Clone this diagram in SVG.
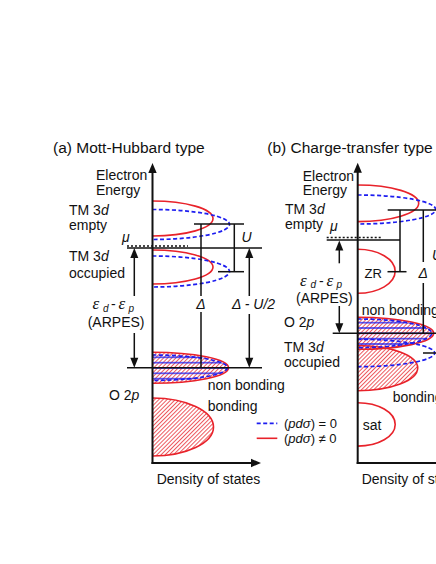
<svg xmlns="http://www.w3.org/2000/svg" width="436" height="564" viewBox="0 0 436 564">
<style>
text{font-family:"Liberation Sans",Arial,sans-serif;font-size:14px;fill:#111}
.ttl{font-size:15.5px}
.it{font-style:italic}
.gr{font-family:"Liberation Serif","Times New Roman",serif;font-style:italic;font-size:17px}
.sub{font-style:italic;font-size:10px}
.red{fill:none;stroke:#e8222a;stroke-width:1.6}
.blue{fill:none;stroke:#1d1df0;stroke-width:1.7;stroke-dasharray:4 2.5}
.ln{stroke:#111;stroke-width:1.5;fill:none}
.ax{stroke:#111;stroke-width:2;fill:none}
.dot{stroke:#111;stroke-width:1.6;stroke-dasharray:2 2;fill:none}
.hd{fill:#111}
.hr{fill:url(#hatchR);stroke:none}
</style>
<defs>
<pattern id="hatchR" patternUnits="userSpaceOnUse" width="2.9" height="2.9" patternTransform="rotate(45)">
<line x1="0.5" y1="0" x2="0.5" y2="2.9" stroke="#e8222a" stroke-width="0.75"/>
</pattern>
<pattern id="hatchBa" patternUnits="userSpaceOnUse" x="0" y="354.67" width="10" height="5.33">
<line x1="0" y1="2.67" x2="10" y2="2.67" stroke="#1d1df0" stroke-width="1.3"/>
</pattern>
<pattern id="hatchBb" patternUnits="userSpaceOnUse" x="0" y="320" width="10" height="5.33">
<line x1="0" y1="2.67" x2="10" y2="2.67" stroke="#1d1df0" stroke-width="1.3"/>
</pattern>
</defs>

<!-- Panel (a) -->
<text class="ttl" x="53" y="153">(a) Mott-Hubbard type</text>

<g id="a-empty">
<path class="red" d="M152.5,201 A60.5,17.5 0 0 1 152.5,236"/>
<path class="blue" d="M152.5,209.5 A77,15 0 0 1 152.5,239.5"/>
<text x="69" y="215">TM 3<tspan class="it">d</tspan></text>
<text x="69" y="230">empty</text>
</g>
<g id="a-occupied">
<path class="red" d="M152.5,250 A60.5,17 0 0 1 152.5,284"/>
<path class="blue" d="M152.5,256 A77,15.5 0 0 1 152.5,287"/>
<text x="69" y="261">TM 3<tspan class="it">d</tspan></text>
<text x="69" y="278">occupied</text>
</g>
<g id="a-nonbonding">
<path class="hr" d="M152.5,352.2 A76,15.5 0 0 1 152.5,383.2 Z"/>
<path fill="url(#hatchBa)" d="M152.5,354 A75,13.7 0 0 1 152.5,381.4 Z"/>
<path class="red" d="M152.5,352.2 A76,15.5 0 0 1 152.5,383.2"/>
<path class="blue" d="M152.5,355 A75,12.7 0 0 1 152.5,380.4"/>
<text x="207.7" y="390">non bonding</text>
</g>
<g id="a-bonding">
<path class="hr" d="M152.5,398 A61,29 0 0 1 152.5,456 Z"/>
<path class="red" d="M152.5,398 A61,29 0 0 1 152.5,456"/>
<text x="207.7" y="411">bonding</text>
</g>
<g id="a-o2p"><text x="109" y="400">O 2<tspan class="it">p</tspan></text></g>
<g id="a-legend">
<line x1="256.7" y1="423.3" x2="277.3" y2="423.3" class="blue"/>
<line x1="256.7" y1="438.3" x2="277.3" y2="438.3" class="red"/>
<text x="284" y="427.5" style="font-size:13px">(<tspan class="it">pd</tspan><tspan class="it">σ</tspan>) = 0</text>
<text x="284" y="442.5" style="font-size:13px">(<tspan class="it">pd</tspan><tspan class="it">σ</tspan>) ≠ 0</text>
</g>

<g id="a-connectors">
<line class="dot" x1="127" y1="246" x2="188" y2="246"/>
<line class="ln" x1="127" y1="248" x2="262" y2="248"/>
<line class="ln" x1="194" y1="224" x2="244" y2="224"/>
<line class="ln" x1="218" y1="271.7" x2="244" y2="271.7"/>
<line class="ln" x1="234.3" y1="224" x2="234.3" y2="271.7"/>
<line class="ln" x1="201" y1="224" x2="201" y2="296"/>
<line class="ln" x1="201" y1="312" x2="201" y2="367.7"/>
<line class="ln" x1="127" y1="367.7" x2="262" y2="367.7"/>
<line class="ln" x1="134.3" y1="296" x2="134.3" y2="256"/>
<polygon class="hd" points="134.3,248 130.3,258 138.3,258"/>
<line class="ln" x1="134.3" y1="333" x2="134.3" y2="359"/>
<polygon class="hd" points="134.3,367.7 130.3,357.7 138.3,357.7"/>
<line class="ln" x1="249.3" y1="296" x2="249.3" y2="256"/>
<polygon class="hd" points="249.3,248 245.3,258 253.3,258"/>
<line class="ln" x1="249.3" y1="314" x2="249.3" y2="359"/>
<polygon class="hd" points="249.3,367.7 245.3,357.7 253.3,357.7"/>
</g>
<g id="a-axes">
<line class="ax" x1="152.5" y1="464" x2="152.5" y2="171"/>
<polygon class="hd" points="152.5,163 148.3,173 156.7,173"/>
<line class="ax" x1="151.5" y1="463" x2="252" y2="463"/>
<polygon class="hd" points="261,463 251,458.8 251,467.2"/>
<text x="96" y="180">Electron</text>
<text x="96" y="195">Energy</text>
<text x="156.7" y="484">Density of states</text>
</g>
<g id="a-labels">
<text class="it" x="122" y="242">μ</text>
<text class="it" x="241.5" y="242">U</text>
<text x="92.5" y="309"><tspan class="gr">ε</tspan><tspan class="sub" x="103" y="311.5">d</tspan><tspan x="111" y="309">-</tspan><tspan class="gr" x="118.5">ε</tspan><tspan class="sub" x="128.5" y="311.5">p</tspan></text>
<text x="87.7" y="327">(ARPES)</text>
<text class="it" x="201" y="308.5" text-anchor="middle">Δ</text>
<text class="it" x="232" y="308.5">Δ - U/2</text>
</g>

<!-- Panel (b) -->
<text class="ttl" x="267.3" y="153">(b) Charge-transfer type</text>

<g id="b-empty">
<path class="red" d="M357.7,185 A61,18.3 0 0 1 357.7,221.6"/>
<path class="blue" d="M357.7,195 A78,14.5 0 0 1 357.7,224"/>
<text x="285" y="214">TM 3<tspan class="it">d</tspan></text>
<text x="285" y="228.5">empty</text>
</g>
<g id="b-zr">
<path class="red" d="M357.7,249.3 A37.5,22 0 0 1 357.7,293.3"/>
<text x="364.5" y="277.5" style="font-size:13px">ZR</text>
</g>
<g id="b-bonding">
<path class="hr" d="M357.7,345.5 A60,22.6 0 0 1 357.7,390.7 Z"/>
<path class="red" d="M357.7,345.5 A60,22.6 0 0 1 357.7,390.7"/>
<text x="392.7" y="402">bonding</text>
</g>
<g id="b-nonbonding">
<path class="hr" d="M357.7,317.3 A76,16 0 0 1 357.7,349.3 Z"/>
<path fill="url(#hatchBb)" d="M357.7,319 A74,14.3 0 0 1 357.7,347.6 Z"/>
<path class="red" d="M357.7,317.3 A76,16 0 0 1 357.7,349.3"/>
<path class="blue" d="M357.7,319 A74,14.3 0 0 1 357.7,347.6"/>
<text x="361.7" y="315">non bonding</text>
</g>
<g id="b-occupied">
<path class="blue" d="M357.7,339.3 A77,13.7 0 0 1 357.7,366.7"/>
<text x="284" y="352">TM 3<tspan class="it">d</tspan></text>
<text x="284" y="367">occupied</text>
</g>
<g id="b-o2p"><text x="284" y="327">O 2<tspan class="it">p</tspan></text></g>
<g id="b-sat">
<path class="red" d="M357.7,402.7 A37.5,21.7 0 0 1 357.7,446.1"/>
<text x="362.7" y="430">sat</text>
</g>

<g id="b-connectors">
<line class="dot" x1="326.7" y1="237.5" x2="381" y2="237.5"/>
<line class="ln" x1="326.7" y1="240" x2="400" y2="240"/>
<line class="ln" x1="387.7" y1="210" x2="440" y2="210"/>
<line class="ln" x1="400" y1="210" x2="400" y2="271.7"/>
<line class="ln" x1="387.5" y1="271.7" x2="406.5" y2="271.7"/>
<line class="ln" x1="423.3" y1="210" x2="423.3" y2="262"/>
<line class="ln" x1="423.3" y1="283" x2="423.3" y2="333.3"/>
<line class="ln" x1="332.7" y1="333.3" x2="440" y2="333.3"/>
<line class="ln" x1="423" y1="353" x2="440" y2="353"/>
<line class="ln" x1="339.3" y1="263.3" x2="339.3" y2="249"/>
<polygon class="hd" points="339.3,240.5 335.3,250.5 343.3,250.5"/>
<line class="ln" x1="339.3" y1="306" x2="339.3" y2="325"/>
<polygon class="hd" points="339.3,333.3 335.3,323.3 343.3,323.3"/>
</g>
<g id="b-axes">
<line class="ax" x1="357.7" y1="464" x2="357.7" y2="171"/>
<polygon class="hd" points="357.7,162.7 353.5,172.7 361.9,172.7"/>
<line class="ax" x1="356.7" y1="463" x2="440" y2="463"/>
<text x="302.7" y="180.5">Electron</text>
<text x="302.7" y="195">Energy</text>
<text x="361.7" y="484">Density of states</text>
</g>
<g id="b-labels">
<text class="it" x="330" y="231">μ</text>
<text class="it" x="423.3" y="278" text-anchor="middle">Δ</text>
<text class="it" x="432" y="260">U</text>
<text x="300" y="285.5"><tspan class="gr">ε</tspan><tspan class="sub" x="310.5" y="287.5">d</tspan><tspan x="319" y="285.5">-</tspan><tspan class="gr" x="326.5">ε</tspan><tspan class="sub" x="336.5" y="287.5">p</tspan></text>
<text x="296" y="302.5">(ARPES)</text>
</g>
</svg>
